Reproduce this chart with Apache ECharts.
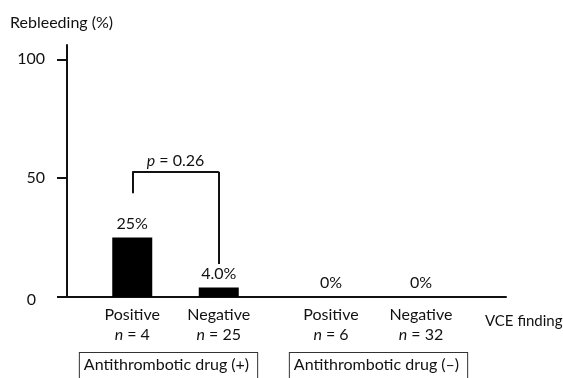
<!DOCTYPE html>
<html>
<head>
<meta charset="utf-8">
<script src="https://cdn.jsdelivr.net/npm/echarts@6/dist/echarts.min.js"></script>
<style>
  html, body { margin: 0; padding: 0; background: #fff; }
  #chart { width: 563px; height: 378px; }
</style>
</head>
<body>
<div id="chart"></div>
<script>
// Rebleeding rate by VCE finding, split by antithrombotic drug use
const groups = ['Antithrombotic drug (+)', 'Antithrombotic drug (–)'];
const findings = ['Positive', 'Negative'];
const nCounts = [[4, 25], [6, 32]];
const rebleedPct = [[25, 4.0], [0, 0]];
const pctDecimals = [[0, 1], [0, 0]];
const yTicks = [0, 50, 100];
const pValueText = '0.26';

const FONT = 'Lato';
const INK = '#111';
const FS = 16;
const Y_MAX = 106;

const chart = echarts.init(document.getElementById('chart'));

const baseText = { fontFamily: FONT, fontSize: FS, color: INK };

// Grid 0 holds the frame (y axis + long x axis line); grids 1 and 2 hold each drug group
const frame = { top: 45, bottom: 81, outerBoundsMode: 'none', containLabel: false };
const grids = [
  Object.assign({ left: 67, right: 57 }, frame),
  Object.assign({ left: 89, width: 173 }, frame),
  Object.assign({ left: 286, width: 180 }, frame)
];
// Horizontal nudge of each group caption box: [space before, space after]
const captionShift = [[0, 14], [5, 0]];

const xAxes = [
  {
    gridIndex: 0, type: 'value', min: 0, max: 1, position: 'bottom',
    axisLine: { show: true, lineStyle: { color: INK, width: 2 } },
    axisTick: { show: false }, axisLabel: { show: false }, splitLine: { show: false }
  }
];
const yAxes = [
  {
    gridIndex: 0, type: 'value', min: 0, max: Y_MAX,
    axisLine: { show: true, lineStyle: { color: INK, width: 2 } },
    axisTick: { show: true, inside: false, length: 10, customValues: yTicks, lineStyle: { color: INK, width: 2 } },
    axisLabel: Object.assign({}, baseText, {
      customValues: yTicks, margin: 22,
      formatter: v => v === 0 ? '{z|0}' : String(v),
      rich: { z: Object.assign({}, baseText, { padding: [6, 9, 0, 0] }) }
    }),
    splitLine: { show: false }
  }
];

const series = [];

groups.forEach((g, gi) => {
  const gridIndex = gi + 1;
  // Finding categories with n under each bar
  xAxes.push({
    gridIndex, type: 'category', data: findings, position: 'bottom',
    axisLine: { show: false }, axisTick: { show: false },
    axisLabel: Object.assign({}, baseText, {
      margin: 8, lineHeight: 20, interval: 0,
      formatter: (v, i) => v + '\n{i|n} = ' + nCounts[gi][i],
      rich: { i: Object.assign({}, baseText, { fontStyle: 'italic', lineHeight: 20 }) }
    })
  });
  // Group caption in a box
  const [before, after] = captionShift[gi];
  xAxes.push({
    gridIndex, type: 'category', data: [g], position: 'bottom',
    axisLine: { show: false }, axisTick: { show: false },
    axisLabel: Object.assign({}, baseText, {
      margin: 66,
      formatter: v => '{s1|}{b|' + v + '}{s2|}',
      rich: {
        b: Object.assign({}, baseText, {
          lineHeight: 16, borderColor: '#333', borderWidth: 1,
          padding: [4, 8, 16, 4], backgroundColor: '#fff'
        }),
        s1: { width: before },
        s2: { width: after }
      }
    })
  });
  yAxes.push({ gridIndex, type: 'value', min: 0, max: Y_MAX, show: false });

  const bar = {
    type: 'bar',
    xAxisIndex: gi * 2 + 1, yAxisIndex: gridIndex,
    data: rebleedPct[gi],
    barWidth: 40,
    itemStyle: { color: '#000' },
    label: Object.assign({}, baseText, {
      show: true, position: 'top', distance: 6,
      formatter: p => p.value.toFixed(pctDecimals[gi][p.dataIndex]) + '%'
    }),
    silent: true
  };

  if (gi === 0) {
    // Significance bracket between the two bars of this group
    const lo1 = 43.6, top = 52.7, lo2 = 13.9;
    const seg = (a, b, label) => [
      { coord: a, label: label || { show: false } },
      { coord: b }
    ];
    bar.markLine = {
      silent: true, symbol: ['none', 'none'], animation: false,
      lineStyle: { color: INK, width: 2, type: 'solid' },
      data: [
        seg([findings[0], lo1], [findings[0], top]),
        seg([findings[0], top], [findings[1], top], Object.assign({}, baseText, {
          show: true, position: 'middle', distance: 3,
          formatter: '{i|p} = ' + pValueText,
          rich: { i: Object.assign({}, baseText, { fontStyle: 'italic' }) }
        })),
        seg([findings[1], top], [findings[1], lo2])
      ]
    };
  }
  series.push(bar);
});

chart.setOption({
  animation: false,
  backgroundColor: '#fff',
  title: {
    text: 'Rebleeding (%)', left: 5, top: 10,
    textStyle: { fontFamily: FONT, fontSize: FS, fontWeight: 'normal', color: INK }
  },
  graphic: [{
    type: 'text', left: 485, top: 314,
    style: { text: 'VCE finding', font: '15px ' + FONT, fill: INK }
  }],
  grid: grids,
  xAxis: xAxes,
  yAxis: yAxes,
  series
});
</script>
</body>
</html>
